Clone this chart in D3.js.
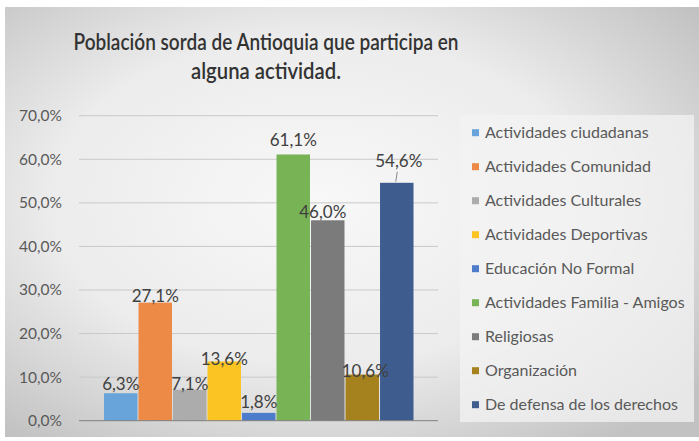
<!DOCTYPE html>
<html>
<head>
<meta charset="utf-8">
<script src="https://cdn.jsdelivr.net/npm/d3@7"></script>
<style>
  body { margin: 0; background: #fff; }
  text { font-family: Lato, "Open Sans", sans-serif; }
</style>
</head>
<body>
<div id="chart"></div>
<script>
// data
const series = ["Actividades ciudadanas", "Actividades Comunidad", "Actividades Culturales",
  "Actividades Deportivas", "Educación No Formal", "Actividades Familia - Amigos",
  "Religiosas", "Organización", "De defensa de los derechos"];
const values = [0.063, 0.271, 0.071, 0.136, 0.018, 0.611, 0.460, 0.106, 0.546];
const yTicks = [0, 0.1, 0.2, 0.3, 0.4, 0.5, 0.6, 0.7];
const titleLines = ["Población sorda de Antioquia que participa en", "alguna actividad."];

const colors = ["#68a3d9", "#ec8a46", "#acacac", "#fbc423", "#4d7ccb",
  "#78b356", "#7b7b7b", "#a6821f", "#3e5d8e"];
// manual label nudges (as placed in the original)
const labelDx = [0, 0, 0, 0, 0, 0, -5, 3, 2];
const labelDy = [-9, -7, -6, -2, -11, -14, -8, -3, -22];
const titleWidths = [385, 150];

const W = 699, H = 441;
const fmt = v => d3.format(".1f")(v * 100).replace(".", ",") + "%";

const svg = d3.select("#chart").append("svg")
  .attr("width", W).attr("height", H);

// background with soft radial shading
const defs = svg.append("defs");
const grad = defs.append("radialGradient").attr("id", "bg")
  .attr("cx", "45%").attr("cy", "45%").attr("r", "70%");
grad.append("stop").attr("offset", "0%").attr("stop-color", "#f8f8f8");
grad.append("stop").attr("offset", "55%").attr("stop-color", "#ececec");
grad.append("stop").attr("offset", "100%").attr("stop-color", "#c2c2c2");

svg.append("rect").attr("x", 5).attr("y", 7).attr("width", W - 5).attr("height", 430)
  .attr("fill", "url(#bg)");

// title
svg.append("g").selectAll("text")
  .data(titleLines)
  .enter().append("text")
  .attr("x", 266)
  .attr("y", (d, i) => 50 + i * 29)
  .attr("text-anchor", "middle")
  .attr("font-size", 23.5)
  .attr("font-weight", 600)
  .attr("fill", "#333")
  .attr("textLength", (d, i) => titleWidths[i])
  .attr("lengthAdjust", "spacingAndGlyphs")
  .text(d => d);

// scales
const x = d3.scaleBand().domain(series).range([104, 413.5]).paddingInner(0.03);
const y = d3.scaleLinear().domain([0, 0.7]).range([420.7, 115.7]);

// gridlines
svg.append("g").selectAll("line")
  .data(yTicks.slice(1))
  .enter().append("line")
  .attr("x1", 79).attr("x2", 438)
  .attr("y1", d => y(d)).attr("y2", d => y(d))
  .attr("stroke", "#c9c9c9").attr("stroke-width", 1);

// y axis labels
const yAxis = d3.axisLeft(y).tickValues(yTicks).tickFormat(fmt).tickSize(0).tickPadding(0);
const gy = svg.append("g").attr("transform", "translate(62,0)").call(yAxis);
gy.select(".domain").remove();
gy.selectAll("text")
  .attr("font-family", "Lato, sans-serif")
  .attr("font-size", 15.5)
  .attr("fill", "#595959");

// bars
svg.append("g").selectAll("rect")
  .data(values)
  .enter().append("rect")
  .attr("x", (d, i) => x(series[i]))
  .attr("y", d => y(d))
  .attr("width", x.bandwidth())
  .attr("height", d => y(0) - y(d))
  .attr("fill", (d, i) => colors[i]);

// baseline
svg.append("line")
  .attr("x1", 79).attr("x2", 438)
  .attr("y1", y(0)).attr("y2", y(0))
  .attr("stroke", "#7f7f7f").attr("stroke-width", 1);

// leader line for the moved label
const last = values.length - 1;
svg.append("line")
  .attr("x1", x(series[last]) + x.bandwidth() / 2 + 0.5)
  .attr("x2", x(series[last]) + x.bandwidth() / 2 - 1)
  .attr("y1", y(values[last]) + labelDy[last] + 11)
  .attr("y2", y(values[last]) - 1)
  .attr("stroke", "#8a8a8a").attr("stroke-width", 1);

// data labels
svg.append("g").selectAll("text")
  .data(values)
  .enter().append("text")
  .attr("x", (d, i) => x(series[i]) + x.bandwidth() / 2 + labelDx[i])
  .attr("y", (d, i) => y(d) + labelDy[i])
  .attr("dy", "0.35em")
  .attr("text-anchor", "middle")
  .attr("font-size", 17)
  .attr("fill", "#404040")
  .text(d => fmt(d));

// legend
svg.append("rect")
  .attr("x", 460).attr("y", 115).attr("width", 234).attr("height", 307)
  .attr("fill", "#f3f3f3").attr("opacity", 0.75);

const legend = svg.append("g").selectAll("g")
  .data(series)
  .enter().append("g")
  .attr("transform", (d, i) => `translate(472,${132.7 + i * 34})`);

legend.append("rect")
  .attr("x", 0).attr("y", -3.5).attr("width", 7).attr("height", 7)
  .attr("fill", (d, i) => colors[i]);

legend.append("text")
  .attr("x", 13).attr("dy", "0.35em")
  .attr("font-size", 16)
  .attr("fill", "#595959")
  .text(d => d);
</script>
</body>
</html>
